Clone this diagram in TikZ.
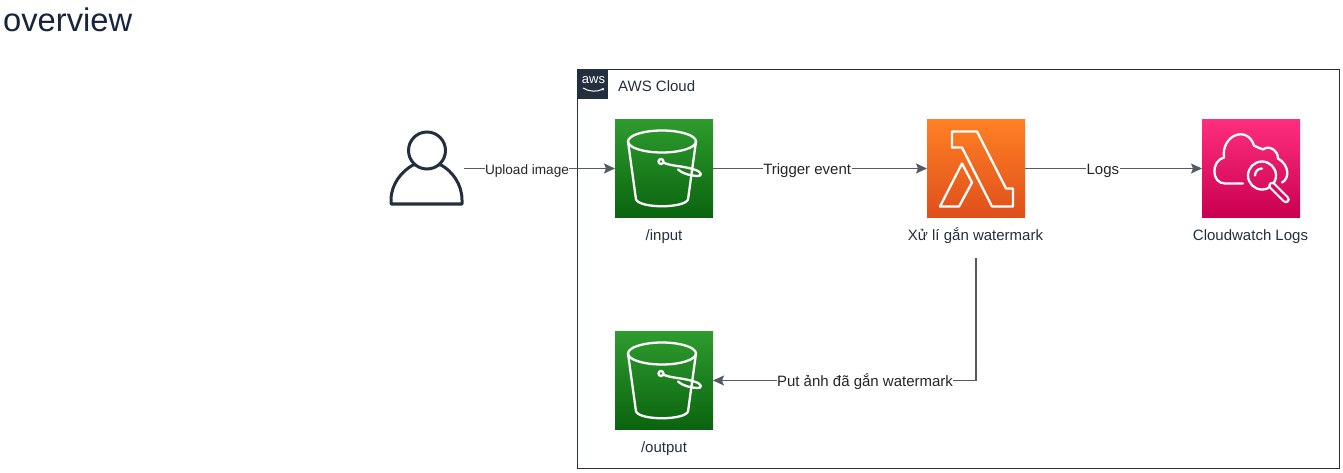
\documentclass[tikz,border=0pt]{standalone}
\usepackage{fontspec}
\setmainfont{Liberation Sans}
\usetikzlibrary{arrows.meta}
\definecolor{awsdark}{HTML}{232F3E}
\definecolor{titlenavy}{HTML}{16253D}
\definecolor{linegray}{HTML}{545B64}
\definecolor{greentop}{HTML}{2E9B2E}
\definecolor{greenmid}{HTML}{0A8A12}
\definecolor{greenlow}{HTML}{0A640F}
\definecolor{orangetop}{HTML}{FF8024}
\definecolor{orangelow}{HTML}{DF4F1B}
\definecolor{pinktop}{HTML}{FF2E7E}
\definecolor{pinkmid}{HTML}{F5085F}
\definecolor{pinklow}{HTML}{C8004F}
\tikzset{
  iconbox/.style={rectangle, minimum size=98pt, inner sep=0pt, outer sep=0pt},
  greenbox/.style={iconbox, top color=greentop, middle color=greenmid, bottom color=greenlow},
  orangebox/.style={iconbox, top color=orangetop, bottom color=orangelow},
  pinkbox/.style={iconbox, top color=pinktop, middle color=pinkmid, bottom color=pinklow},
  iconline/.style={draw=white, line width=2.3pt, line join=round, line cap=round},
  caption/.style={font=\fontsize{15}{17}\selectfont, text=awsdark, inner sep=1pt, text height=11pt, text depth=3pt},
  edgelabel/.style={font=\fontsize{15}{17}\selectfont, text=black!85, fill=white, inner sep=0.5pt, text height=10.5pt, text depth=3pt, yshift=-2pt},
  link/.style={draw=linegray, line width=1.2pt, -{Stealth[length=11pt, width=10pt, inset=2pt]}},
  bucketicon/.pic={
    \draw[iconline] (-2,-27) ellipse (34 and 11);
    \draw[iconline] (-36,-27) -- (-28,31) .. controls (-24,40) and (20,40) .. (24,31) -- (32,-27);
    \draw[iconline] (-3,-7) circle (2.5);
    \draw[iconline] (-1,-6) .. controls (8,-2) and (18,-3) .. (30,1) .. controls (38,3) and (39,8) .. (33,7.5) .. controls (27,7) and (20,6) .. (14,1);
  },
  lambdaicon/.pic={
    \draw[iconline] (-24,-37) -- (1,-37) -- (30,20) -- (37,20) -- (37,38) -- (16,38) -- (-14,-21) -- (-24,-21) -- cycle;
    \draw[iconline] (-14,-5) -- (-4,14) -- (-17,38) -- (-36,38) -- cycle;
  },
  logsicon/.pic={
    \draw[iconline] (-8,15) -- (-26,15) .. controls (-40,15) and (-40,-8) .. (-27,-11)
      .. controls (-30,-33) and (-4,-44) .. (3,-23) .. controls (8,-20) and (11,-20) .. (12,-19)
      .. controls (18,-24) and (27,-18) .. (27,-10) .. controls (38,-4) and (39,10) .. (31,14);
    \draw[iconline] (11,7) circle (14);
    \draw[iconline] (4,7) .. controls (4,3) and (7,0) .. (11,0);
    \draw[white, line width=7.5pt, line cap=round] (21,17) -- (35,31);
    \draw[pinkmid!90!black, line width=3.4pt, line cap=round] (21,17) -- (35,31);
  }
}
\begin{document}
\begin{tikzpicture}[x=1pt, y=-1pt]
\useasboundingbox (0,0) rectangle (1343,473);
\node[anchor=west, inner sep=0pt, font=\fontsize{32.7}{36}\selectfont, text=titlenavy] (title) at (3,20) {overview};
\node[draw=awsdark, line width=.9pt, minimum width=762pt, minimum height=399pt, inner sep=0pt, outer sep=0pt] (cloud) at (958,268.5) {};
\node[fill=awsdark, minimum size=30pt, inner sep=0pt, outer sep=0pt] (awsbadge) at (593,84) {};
\node[text=white, inner sep=0pt, font=\fontsize{13}{13}\selectfont] (awstext) at (593.5,80) {aws};
\draw[white, line width=1pt, -{Stealth[length=2pt, width=3pt]}] (583,88) .. controls (589,92) and (598,92) .. (604,88.5);
\node[caption, anchor=west] (cloudname) at (617,87.5) {AWS Cloud};
% user
\draw[awsdark, line width=3pt, fill=white, line join=round] (391,204) -- (391,200) .. controls (391,184) and (402,171) .. (413,165) -- (441,165) .. controls (452,171) and (462,184) .. (462,200) -- (462,204) -- cycle;
\node[circle, draw=awsdark, line width=3pt, fill=white, minimum size=37pt, inner sep=0pt] (userhead) at (427,150.5) {};
\coordinate (user) at (464,168.5);
% icons
\node[greenbox] (input) at (664,168.5) {};
\node[greenbox] (output) at (664,380.5) {};
\node[orangebox] (lambda) at (976,168.5) {};
\node[pinkbox] (logs) at (1251,168.5) {};
\pic at (input) {bucketicon};
\pic at (output) {bucketicon};
\pic at (lambda) {lambdaicon};
\pic at (logs) {logsicon};
\node[caption] (inputname) at (664,236) {/input};
\node[caption] (outputname) at (664,448) {/output};
\node[caption] (lambdaname) at (975.5,236) {Xử lí gắn watermark};
\node[caption] (logsname) at (1250.5,236) {Cloudwatch Logs};
\coordinate (lambdaout) at (976,258);
% connectors
\draw[link] (user) -- node[edgelabel, pos=.417, font=\fontsize{13.6}{15}\selectfont] (uploadlabel) {Upload image} (input);
\draw[link] (input) -- node[edgelabel, pos=.44] (triggerlabel) {Trigger event} (lambda);
\draw[link] (lambda) -- node[edgelabel, pos=.44] (logslabel) {Logs} (logs);
\draw[link] (lambdaout) |- node[edgelabel, pos=.711] (putlabel) {Put ảnh đã gắn watermark} (output);
\end{tikzpicture}
\end{document}
